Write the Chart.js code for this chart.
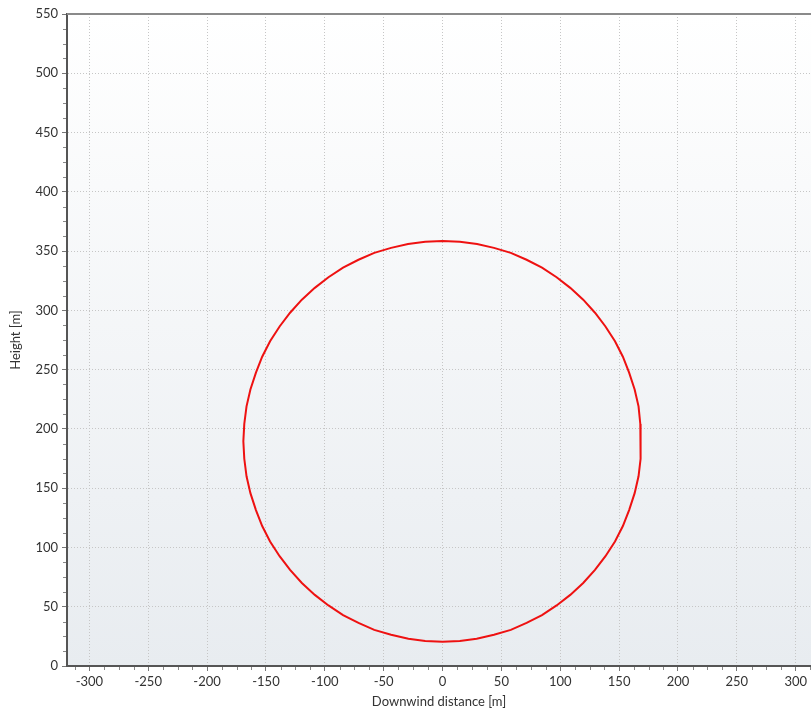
<!DOCTYPE html>
<html>
<head>
<meta charset="utf-8">
<script src="https://cdn.jsdelivr.net/npm/chart.js@4/dist/chart.umd.min.js"></script>
<style>
html,body{margin:0;padding:0;background:#fff;overflow:hidden;}
canvas{display:block;}
</style>
</head>
<body>
<canvas id="c" width="811" height="710"></canvas>
<script>
// Plume cross-section outline (downwind distance [m], height [m])
const xValues = [0, 14.7, 29.3, 43.7, 58, 71.4, 84.5, 96.9, 108.5, 119.5, 129.5, 138.4, 146.5, 153.2, 158.5, 163.2, 166.5, 168, 168.5,
                 168, 166.5, 163.2, 158.5, 153.2, 146.5, 138.4, 129.5, 119.5, 108.5, 96.9, 84.5, 71.4, 58, 43.7, 29, 14.7, 0,
                 -14.7, -29, -43.7, -58, -71.4, -84.5, -96.9, -108.5, -119.5, -129.5, -138.4, -146.5, -153.2, -158.5, -163.2, -166.5, -168.4, -169.2,
                 -168.4, -166.5, -163.2, -158.5, -153.2, -146.5, -138.4, -129.5, -119.5, -108.5, -96.9, -84.5, -71.4, -58, -43.7, -29.3, -14.7, 0];
const yValues = [358.5, 357.9, 356, 352.7, 348.5, 342.7, 336, 327.9, 319, 309, 298, 286.4, 274, 260.9, 247.5, 233.2, 219, 204.2, 189.5,
                 174.8, 160, 145.8, 131.5, 118.1, 105, 92.6, 81, 70, 60, 51.1, 43, 36.3, 30.5, 26.3, 23, 21.1, 20.5,
                 21.1, 23, 26.3, 30.5, 36.3, 43, 51.1, 60, 70, 81, 92.6, 105, 118.1, 131.5, 145.8, 160, 174.8, 189.5,
                 204.2, 219, 233.2, 247.5, 260.9, 274, 286.4, 298, 309, 319, 327.9, 336, 342.7, 348.5, 352.7, 356, 357.9, 358.5];
const xTitle = 'Downwind distance [m]';
const yTitle = 'Height [m]';
const xRange = [-319, 313];
const yRange = [0, 550];
const majorStep = 50;
const minorStep = 12.5;

const points = xValues.map((x, i) => ({x: x, y: yValues[i]}));
const FONT = "Lato, 'Noto Sans', sans-serif";

const bgPlugin = {
  id: 'bg',
  beforeDraw(chart) {
    const {ctx, chartArea: a} = chart;
    const g = ctx.createLinearGradient(0, a.top, 0, a.bottom);
    g.addColorStop(0, '#ffffff');
    g.addColorStop(1, '#e8ecf0');
    ctx.save();
    ctx.fillStyle = g;
    ctx.fillRect(a.left, a.top, a.right - a.left, a.bottom - a.top);
    ctx.restore();
  },
  afterDraw(chart) {
    const {ctx, chartArea: a, scales} = chart;
    ctx.save();
    ctx.strokeStyle = '#8a8a8a';
    ctx.lineWidth = 2;
    ctx.beginPath();
    ctx.moveTo(a.left, a.top);
    ctx.lineTo(a.right, a.top);
    ctx.stroke();
    ctx.strokeStyle = '#888';
    ctx.lineWidth = 1;
    const xs = scales.x, ys = scales.y;
    for (let v = Math.ceil(xs.min / minorStep) * minorStep; v <= xs.max; v += minorStep) {
      if (Math.abs(v % majorStep) < 1e-6) continue;
      const p = Math.round(xs.getPixelForValue(v)) + 0.5;
      ctx.beginPath(); ctx.moveTo(p, a.bottom + 1); ctx.lineTo(p, a.bottom + 4); ctx.stroke();
    }
    for (let v = Math.ceil(ys.min / minorStep) * minorStep; v <= ys.max; v += minorStep) {
      if (Math.abs(v % majorStep) < 1e-6) continue;
      const p = Math.round(ys.getPixelForValue(v)) + 0.5;
      ctx.beginPath(); ctx.moveTo(a.left - 4, p); ctx.lineTo(a.left - 1, p); ctx.stroke();
    }
    ctx.restore();
  }
};

new Chart(document.getElementById('c'), {
  type: 'scatter',
  data: {
    datasets: [{
      data: points,
      showLine: true,
      borderColor: '#ee1111',
      borderWidth: 2,
      pointRadius: 0,
      tension: 0,
      fill: false
    }]
  },
  options: {
    responsive: false,
    animation: false,
    devicePixelRatio: 1,
    layout: {padding: {top: 14, right: 0, left: 0, bottom: 0}},
    plugins: {legend: {display: false}, tooltip: {enabled: false}},
    scales: {
      x: {
        type: 'linear',
        min: xRange[0], max: xRange[1],
        afterBuildTicks(scale) {
          scale.ticks = [];
          for (let v = Math.ceil(scale.min / majorStep) * majorStep; v <= scale.max; v += majorStep) scale.ticks.push({value: v});
        },
        afterFit(scale) { scale.height = 44; },
        ticks: {color: '#333', font: {family: FONT, size: 13}, padding: 3, maxRotation: 0, autoSkip: false},
        grid: {color: '#c6c6c6', lineWidth: 1, tickLength: 5, tickColor: '#777', tickBorderDash: []},
        border: {display: true, color: '#555', width: 2, dash: [1, 2]},
        title: {display: true, text: xTitle, color: '#333', font: {family: FONT, size: 13}, padding: {top: 0, bottom: 0}}
      },
      y: {
        type: 'linear',
        min: yRange[0], max: yRange[1],
        afterBuildTicks(scale) {
          scale.ticks = [];
          for (let v = Math.ceil(scale.min / majorStep) * majorStep; v <= scale.max; v += majorStep) scale.ticks.push({value: v});
        },
        afterFit(scale) { scale.width = 67; },
        ticks: {color: '#333', font: {family: FONT, size: 13}, padding: 4, autoSkip: false},
        grid: {color: '#c6c6c6', lineWidth: 1, tickLength: 5, tickColor: '#777', tickBorderDash: []},
        border: {display: true, color: '#555', width: 2, dash: [1, 2]},
        title: {display: true, text: yTitle, color: '#333', font: {family: FONT, size: 13}, padding: {top: 8, bottom: 0}}
      }
    }
  },
  plugins: [bgPlugin]
});
</script>
</body>
</html>
